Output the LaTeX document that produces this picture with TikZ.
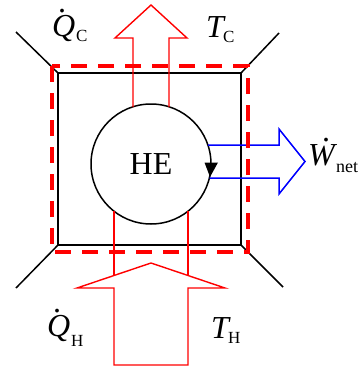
\documentclass[tikz,border=0pt]{standalone}
\usepackage{fontspec}
\setmainfont{Liberation Serif}
\newcommand\dotq[3]{\makebox[0pt][l]{\hspace{#2}\raisebox{#3}{\upshape.}}\textit{#1}}
\begin{document}
\begin{tikzpicture}[x=1pt,y=-1pt,
  blk/.style={line width=1.5pt,black},
  redarr/.style={line width=1.4pt,red,line join=miter},
  bluearr/.style={line width=1.5pt,blue,line join=miter},
  bnd/.style={line width=3.6pt,red,dash pattern=on 16pt off 11pt},
  lbl/.style={inner sep=0pt,anchor=base west,font=\fontsize{32}{36}\selectfont},
  sub/.style={inner sep=0pt,anchor=base west,font=\fontsize{17}{19}\selectfont},
  subn/.style={inner sep=0pt,anchor=base west,font=\fontsize{18}{20}\selectfont}]
\useasboundingbox (0,0) rectangle (360,367);
% square
\coordinate (tl) at (58,73);
\coordinate (tr) at (241,73);
\coordinate (br) at (241,245);
\coordinate (bl) at (58,245);
\coordinate (otl) at (16,32);
\coordinate (otr) at (279,33);
\coordinate (obl) at (16,288);
\coordinate (obr) at (283,287);
\draw[blk] (tl) -- (tr) -- (br) -- (bl) -- cycle;
\draw[blk] (tl) -- (otl);
\draw[blk] (tr) -- (otr);
\draw[blk] (bl) -- (obl);
\draw[blk] (br) -- (obr);
% engine
\node[draw,blk,circle,minimum size=120pt,inner sep=0pt,font=\fontsize{32}{36}\selectfont] (he) at (151,164) {HE};
% top arrow (heat out to cold)
\coordinate (t1) at (133,107);
\coordinate (t2) at (169,107);
\coordinate (t3) at (133,38);
\coordinate (t4) at (115,38);
\coordinate (t5) at (151,5);
\coordinate (t6) at (187,38);
\coordinate (t7) at (169,38);
\draw[redarr] (t1) -- (t3) -- (t4) -- (t5) -- (t6) -- (t7) -- (t2);
% bottom arrow (heat in from hot)
\coordinate (b1) at (114,211);
\coordinate (b2) at (188,211);
\coordinate (b3) at (114,275.5);
\coordinate (b4) at (188,275.5);
\coordinate (c1) at (114,365);
\coordinate (c2) at (114,288);
\coordinate (c3) at (77,288);
\coordinate (c4) at (151,263);
\coordinate (c5) at (225,288);
\coordinate (c6) at (188,288);
\coordinate (c7) at (188,365);
\draw[redarr] (b1) -- (b3);
\draw[redarr] (b2) -- (b4);
\draw[redarr] (c1) -- (c2) -- (c3) -- (c4) -- (c5) -- (c6) -- (c7) -- cycle;
% work arrow
\coordinate (w1) at (208,145);
\coordinate (w2) at (209.5,178);
\coordinate (w3) at (279,145);
\coordinate (w4) at (279,129);
\coordinate (w5) at (305,161.5);
\coordinate (w6) at (279,194);
\coordinate (w7) at (279,178);
\draw[bluearr] (w1) -- (w3) -- (w4) -- (w5) -- (w6) -- (w7) -- (w2);
% cycle direction arrowhead
\coordinate (a1) at (204.5,162.5);
\coordinate (a2) at (218,162.5);
\coordinate (a3) at (210,177);
\fill[black] (a1) -- (a2) -- (a3) -- cycle;
% boundary
\coordinate (d1) at (52,66);
\coordinate (d2) at (248,252);
\draw[bnd] (d1) rectangle (d2);
% labels
\node[lbl] (qc) at (52,36) {\dotq{Q}{6pt}{24pt}};
\node[sub] (qcs) at (76,41) {C};
\node[lbl] (tc) at (206,37) {\textit{T}};
\node[sub] (tcs) at (223,42) {C};
\node[lbl] (qh) at (47,336) {\dotq{Q}{6pt}{24pt}};
\node[sub] (qhs) at (71,346) {H};
\node[lbl] (th) at (211,338) {\textit{T}};
\node[sub] (ths) at (228,343) {H};
\node[lbl] (wn) at (308,165) {\dotq{W}{14pt}{24pt}};
\node[subn] (wns) at (336,172) {net};
\end{tikzpicture}
\end{document}
